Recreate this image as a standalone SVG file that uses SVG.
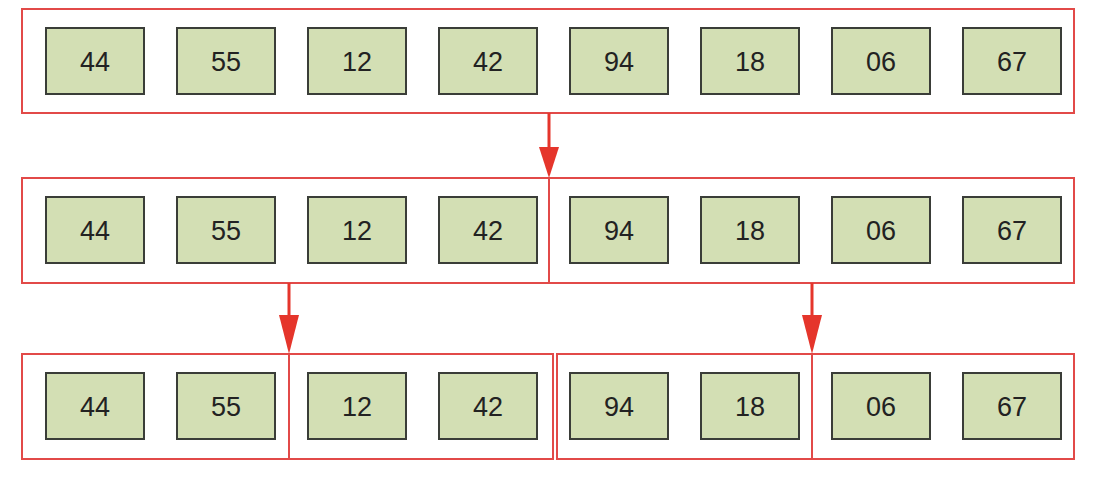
<svg xmlns="http://www.w3.org/2000/svg" width="1096" height="500" viewBox="0 0 1096 500">
<style>
.grp{fill:none;stroke:#e24a48;stroke-width:2}
.cell rect{fill:#d3dfb4;stroke:#3a3d38;stroke-width:2}
.cell text{font-family:"Liberation Sans",Arial,sans-serif;font-size:27px;fill:#222222;text-anchor:middle}
.arr{stroke:#e5352b;stroke-width:3;fill:none}
.head{fill:#e5352b}
</style>
<rect width="1096" height="500" fill="#ffffff"/>
<g id="row1">
<rect class="grp" x="22" y="9" width="1052" height="104"/>
<g class="cell" id="r1c1"><rect x="46" y="28" width="98" height="66"/><text x="95" y="70.5">44</text></g>
<g class="cell" id="r1c2"><rect x="177" y="28" width="98" height="66"/><text x="226" y="70.5">55</text></g>
<g class="cell" id="r1c3"><rect x="308" y="28" width="98" height="66"/><text x="357" y="70.5">12</text></g>
<g class="cell" id="r1c4"><rect x="439" y="28" width="98" height="66"/><text x="488" y="70.5">42</text></g>
<g class="cell" id="r1c5"><rect x="570" y="28" width="98" height="66"/><text x="619" y="70.5">94</text></g>
<g class="cell" id="r1c6"><rect x="701" y="28" width="98" height="66"/><text x="750" y="70.5">18</text></g>
<g class="cell" id="r1c7"><rect x="832" y="28" width="98" height="66"/><text x="881" y="70.5">06</text></g>
<g class="cell" id="r1c8"><rect x="963" y="28" width="98" height="66"/><text x="1012" y="70.5">67</text></g>
</g>
<g id="row2">
<rect class="grp" x="22" y="178" width="527" height="105"/>
<rect class="grp" x="549" y="178" width="525" height="105"/>
<g class="cell" id="r2c1"><rect x="46" y="197" width="98" height="66"/><text x="95" y="239.5">44</text></g>
<g class="cell" id="r2c2"><rect x="177" y="197" width="98" height="66"/><text x="226" y="239.5">55</text></g>
<g class="cell" id="r2c3"><rect x="308" y="197" width="98" height="66"/><text x="357" y="239.5">12</text></g>
<g class="cell" id="r2c4"><rect x="439" y="197" width="98" height="66"/><text x="488" y="239.5">42</text></g>
<g class="cell" id="r2c5"><rect x="570" y="197" width="98" height="66"/><text x="619" y="239.5">94</text></g>
<g class="cell" id="r2c6"><rect x="701" y="197" width="98" height="66"/><text x="750" y="239.5">18</text></g>
<g class="cell" id="r2c7"><rect x="832" y="197" width="98" height="66"/><text x="881" y="239.5">06</text></g>
<g class="cell" id="r2c8"><rect x="963" y="197" width="98" height="66"/><text x="1012" y="239.5">67</text></g>
</g>
<g id="row3">
<rect class="grp" x="22" y="354" width="267" height="105"/>
<rect class="grp" x="289" y="354" width="264" height="105"/>
<rect class="grp" x="557" y="354" width="255" height="105"/>
<rect class="grp" x="812" y="354" width="262" height="105"/>
<g class="cell" id="r3c1"><rect x="46" y="373" width="98" height="66"/><text x="95" y="415.5">44</text></g>
<g class="cell" id="r3c2"><rect x="177" y="373" width="98" height="66"/><text x="226" y="415.5">55</text></g>
<g class="cell" id="r3c3"><rect x="308" y="373" width="98" height="66"/><text x="357" y="415.5">12</text></g>
<g class="cell" id="r3c4"><rect x="439" y="373" width="98" height="66"/><text x="488" y="415.5">42</text></g>
<g class="cell" id="r3c5"><rect x="570" y="373" width="98" height="66"/><text x="619" y="415.5">94</text></g>
<g class="cell" id="r3c6"><rect x="701" y="373" width="98" height="66"/><text x="750" y="415.5">18</text></g>
<g class="cell" id="r3c7"><rect x="832" y="373" width="98" height="66"/><text x="881" y="415.5">06</text></g>
<g class="cell" id="r3c8"><rect x="963" y="373" width="98" height="66"/><text x="1012" y="415.5">67</text></g>
</g>
<g id="connectors">
<line class="arr" x1="549" y1="113" x2="549" y2="150"/>
<polygon class="head" points="539,147 559,147 549,178"/>
<line class="arr" x1="289" y1="283" x2="289" y2="318"/>
<polygon class="head" points="279,315 299,315 289,354"/>
<line class="arr" x1="812" y1="283" x2="812" y2="318"/>
<polygon class="head" points="802,315 822,315 812,354"/>
</g>
</svg>
